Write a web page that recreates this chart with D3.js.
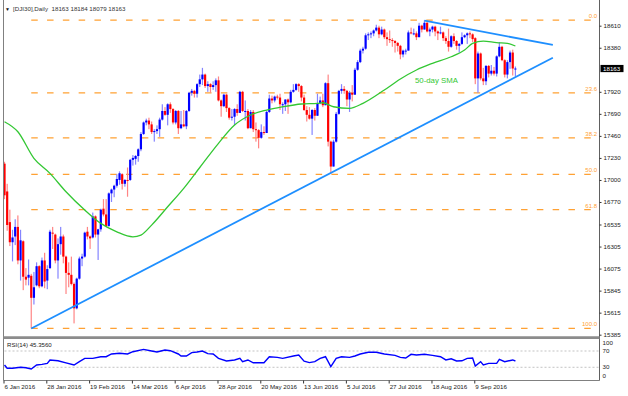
<!DOCTYPE html>
<html>
<head>
<meta charset="utf-8">
<script src="https://cdnjs.cloudflare.com/ajax/libs/d3/7.8.5/d3.min.js"></script>
<style>
	body { margin: 0; background: #fff; }
	svg { display: block; font-family: "Liberation Sans", Arial, sans-serif; }
</style>
</head>
<body>
<svg id="chart" width="628" height="396"></svg>
<script>
var titleText = '[DJI30],Daily  18163 18184 18079 18163';
var lastPrice = 18163;
var rsiText = 'RSI(14) 45.3560';
var smaText = '50-day SMA';

// date labels every 16 bars
var dateIdx = [0, 16, 32, 48, 64, 80, 96, 112, 128, 144, 160, 176];
var dateLabels = ['6 Jan 2016', '28 Jan 2016', '19 Feb 2016', '14 Mar 2016', '6 Apr 2016', '28 Apr 2016',
	'20 May 2016', '13 Jun 2016', '5 Jul 2016', '27 Jul 2016', '18 Aug 2016', '9 Sep 2016'];

var priceTicks = [18610, 18380, 17920, 17690, 17460, 17230, 17000, 16770, 16535, 16305, 16075, 15845, 15615, 15385];

// daily bars [open, high, low, close], 6 Jan .. 30 Sep 2016
var ohlc = [
	[17170,17190,16800,16840],[16880,16960,16470,16530],[16560,16690,16310,16350],[16350,16480,16150,16400],
	[16410,16590,16320,16510],[16510,16630,16120,16160],[16160,16480,15950,16370],[16360,16370,15850,15990],
	[15990,16080,15900,15960],[15980,16170,15900,16010],[16000,16020,15450,15770],[15770,16040,15700,15880],
	[15900,16140,15890,16100],[16100,16110,15870,15890],[15890,16190,15880,16160],[16160,16240,15870,15940],
	[15950,16110,15860,16070],[16080,16480,16070,16460],[16450,16510,16280,16440],[16430,16440,16130,16160],
	[16160,16390,15970,16330],[16330,16510,16220,16410],[16410,16430,16130,16200],[16200,16210,15810,16030],
	[16030,16140,15880,16010],[16010,16200,15900,15915],[15915,15930,15503,15660],[15660,15980,15650,15970],
	[15970,16200,15960,16180],[16180,16230,16100,16200],[16200,16460,16190,16450],[16460,16510,16380,16410],
	[16410,16420,16280,16390],[16400,16660,16390,16620],[16620,16630,16400,16430],[16430,16490,16165,16485],
	[16485,16700,16460,16690],[16700,16800,16620,16640],[16640,16800,16510,16520],[16520,16870,16510,16860],
	[16860,16910,16770,16900],[16900,16950,16820,16940],[16940,17060,16920,17010],[17000,17090,16950,17070],
	[17060,17070,16900,16960],[16960,17010,16930,17000],[17000,17130,16825,16990],[17000,17220,16990,17210],
	[17210,17260,17150,17230],[17220,17260,17160,17250],[17250,17330,17190,17320],[17320,17500,17300,17480],
	[17480,17610,17470,17600],[17600,17640,17570,17620],[17620,17650,17530,17580],[17580,17610,17480,17500],
	[17500,17530,17400,17510],[17510,17570,17480,17530],[17530,17650,17450,17630],[17630,17790,17620,17720],
	[17720,17760,17670,17680],[17680,17800,17570,17790],[17790,17810,17700,17740],[17740,17750,17580,17600],
	[17600,17730,17580,17720],[17720,17730,17480,17540],[17540,17720,17530,17580],[17580,17730,17550,17560],
	[17560,17730,17530,17720],[17720,17920,17710,17910],[17910,17950,17880,17930],[17930,17940,17860,17900],
	[17900,18010,17860,18000],[18000,18100,17970,18050],[18050,18170,17990,18100],[18100,18110,17960,17980],
	[17980,18030,17920,18000],[18000,18010,17910,17970],[17970,18030,17940,17990],[17990,18060,17920,18040],
	[18040,18080,17820,17830],[17830,17840,17660,17770],[17770,17900,17760,17890],[17890,17900,17710,17750],
	[17750,17760,17630,17650],[17650,17740,17620,17660],[17660,17750,17570,17740],[17740,17790,17670,17700],
	[17700,17930,17700,17920],[17920,17930,17710,17720],[17720,17830,17620,17720],[17720,17740,17530,17540],
	[17540,17730,17540,17710],[17710,17730,17500,17530],[17530,17600,17400,17520],[17520,17530,17330,17440],
	[17440,17580,17430,17500],[17500,17560,17470,17490],[17490,17720,17490,17710],[17710,17890,17700,17850],
	[17850,17880,17800,17830],[17830,17880,17810,17870],[17870,17890,17840,17860],[17860,17900,17730,17790],
	[17790,17810,17690,17790],[17790,17840,17720,17840],[17840,17850,17690,17810],[17810,17940,17800,17920],
	[17920,18000,17910,17940],[17940,18010,17930,18000],[18000,18010,17920,17980],[17980,17990,17820,17860],
	[17860,17890,17720,17730],[17730,17770,17610,17680],[17680,17760,17630,17640],[17640,17740,17470,17730],
	[17730,17750,17620,17670],[17670,17900,17670,17800],[17800,17870,17790,17830],[17830,17900,17760,17780],
	[17780,18020,17780,18010],[18010,18100,17350,17400],[17400,17410,17063,17140],[17140,17420,17140,17400],
	[17400,17710,17390,17690],[17690,17940,17680,17930],[17930,18000,17900,17950],[17950,17980,17900,17930],
	[17930,17940,17770,17840],[17840,17930,17710,17910],[17910,17990,17820,17890],[17890,18170,17890,18150],
	[18150,18250,18140,18230],[18230,18370,18220,18350],[18350,18390,18320,18370],[18370,18530,18360,18510],
	[18510,18540,18460,18520],[18520,18550,18480,18530],[18530,18570,18500,18560],[18560,18620,18550,18590],
	[18590,18610,18480,18520],[18520,18600,18510,18570],[18570,18580,18470,18490],[18490,18540,18400,18470],
	[18470,18560,18430,18460],[18460,18480,18390,18450],[18450,18460,18330,18430],[18430,18440,18340,18400],
	[18400,18410,18260,18310],[18310,18360,18280,18350],[18350,18370,18310,18350],[18350,18560,18350,18540],
	[18540,18590,18520,18530],[18530,18580,18510,18530],[18530,18550,18460,18490],[18490,18640,18490,18610],
	[18610,18620,18540,18570],[18570,18668,18570,18640],[18640,18650,18540,18550],[18550,18590,18500,18570],
	[18570,18610,18540,18600],[18600,18610,18500,18550],[18550,18560,18460,18530],[18530,18600,18520,18540],
	[18540,18550,18450,18480],[18480,18500,18420,18450],[18450,18580,18340,18390],[18390,18510,18380,18500],
	[18500,18530,18420,18450],[18450,18460,18360,18400],[18400,18430,18330,18420],[18420,18540,18410,18490],
	[18490,18520,18480,18510],[18510,18540,18420,18530],[18530,18550,18480,18520],[18520,18530,18440,18470],
	[18480,18490,18000,18060],[18060,18340,17910,18320],[18320,18330,18040,18060],[18060,18170,17990,18030],
	[18030,18200,17990,18190],[18190,18200,18070,18110],[18110,18200,18090,18140],[18140,18180,18090,18110],
	[18110,18300,18080,18290],[18290,18440,18280,18390],[18390,18400,18240,18250],[18250,18260,18070,18100],
	[18100,18250,18060,18230],[18230,18350,18160,18330],[18330,18360,18090,18163],[18163,18184,18079,18163]
];

// 50-day SMA, read at bar positions
var smaIdx = [0, 5, 11, 17, 23, 30, 36, 42, 48, 51, 55, 61, 67, 73, 80, 86, 92, 98, 104, 111, 117, 119, 123, 129, 134, 142, 148, 154, 160, 167, 172, 175, 179, 184, 188, 191];
var smaVal = [17608, 17503, 17226, 17069, 16877, 16686, 16547, 16459, 16407, 16425, 16529, 16720, 16913, 17130, 17382, 17573, 17678, 17730, 17764, 17793, 17800, 17806, 17764, 17748, 17800, 17939, 18054, 18148, 18217, 18286, 18356, 18426, 18450, 18433, 18426, 18398];

// RSI(14)
var rsiIdx = [0, 1, 3, 6, 8, 10, 12, 14, 16, 17, 20, 23, 26, 28, 30, 33, 36, 38, 40, 43, 46, 48, 52, 55, 57, 60, 62, 65, 66, 68, 70, 72, 74, 76, 78, 80, 83, 86, 88, 89, 91, 93, 97, 99, 102, 104, 108, 110, 112, 114, 116, 118, 120, 122, 124, 126, 129, 131, 133, 136, 139, 142, 146, 148, 150, 152, 154, 157, 160, 163, 165, 167, 169, 171, 173, 175, 176, 178, 179, 181, 184, 185, 187, 190, 191];
var rsiVal = [35.6, 27.5, 27.5, 30, 29, 25.8, 35.6, 37.2, 39.7, 48, 46, 41, 35.6, 43.8, 52, 52, 56, 56, 62.7, 64.4, 62.7, 68.3, 74, 70, 67.6, 72.4, 70.8, 62.7, 57.8, 57.8, 66, 67.6, 70, 63.5, 62.7, 52, 45.5, 48, 52, 43.8, 48, 41, 41, 56, 54.4, 52, 57.8, 60, 45, 41.5, 44, 52, 56, 31.5, 52, 56, 54.4, 57.8, 62.7, 66.8, 66.8, 62.7, 59.4, 54.4, 52.8, 61.9, 60.2, 61.9, 59.4, 56, 48, 51, 45.5, 46, 52, 52.8, 33, 43.8, 35.6, 39.7, 39.7, 49.5, 43.8, 48, 45.4];
var rsiTicks = [100, 70, 30, 0];
var rsiLevels = [70, 30];

// fibonacci retracement of the Jan low / Aug high
var fibNames = ['0.0', '23.6', '38.2', '50.0', '61.8', '100.0'];
var fibPrices = [18668, 17909, 17439, 17059, 16690, 15450];
var fibStartIdx = 10;

// trend lines [barIndex, price]
var lowerTrend = [[10, 15450], [205, 18276]];
var upperTrend = [[157, 18662], [205, 18409]];

function drawChart() {
	var blue = '#0000ff';
	var red = '#ff0000';
	var orange = '#ffa133';
	var green = '#33c733';
	var trendBlue = '#1e8fff';
	var axisX = 599.5;
	var left = 3.5;
	var mainBottom = 336;
	var rsiBottom = 380.5;

	var svg = d3.select('#chart');
	svg.selectAll('*').remove();

	var x = d3.scaleLinear().domain([0, 191]).range([4.5, 515.4]);
	var y = d3.scaleLinear().domain([15385, 18610]).range([334.7, 25.7]);
	var rsiY = d3.scaleLinear().domain([0, 100]).range([379.5, 338.8]);

	svg.append('defs').append('clipPath').attr('id', 'mainClip')
		.append('rect').attr('x', left + 0.5).attr('y', 0).attr('width', axisX - left - 1).attr('height', mainBottom);

	// frame
	svg.append('line').attr('x1', left).attr('x2', left).attr('y1', 0).attr('y2', rsiBottom)
		.attr('stroke', '#808080').attr('stroke-width', 1);
	svg.append('line').attr('x1', left).attr('x2', axisX).attr('y1', rsiBottom).attr('y2', rsiBottom)
		.attr('stroke', '#808080').attr('stroke-width', 1);
	svg.append('line').attr('x1', axisX).attr('x2', axisX).attr('y1', 0).attr('y2', rsiBottom)
		.attr('stroke', '#606060').attr('stroke-width', 1);
	svg.append('line').attr('x1', left).attr('x2', axisX).attr('y1', 337.6).attr('y2', 337.6)
		.attr('stroke', '#8c8c8c').attr('stroke-width', 2.6);

	var main = svg.append('g').attr('clip-path', 'url(#mainClip)');

	// fib levels
	main.selectAll('line.fib').data(fibPrices).enter().append('line')
		.attr('class', 'fib')
		.attr('x1', x(fibStartIdx)).attr('x2', axisX - 1)
		.attr('y1', function (d) { return y(d); })
		.attr('y2', function (d) { return y(d); })
		.attr('stroke', orange).attr('stroke-width', 1.2)
		.attr('stroke-dasharray', '6.5,9.3');
	main.selectAll('text.fib').data(fibPrices).enter().append('text')
		.attr('class', 'fib')
		.attr('x', axisX - 2.5)
		.attr('y', function (d) { return y(d) - 2; })
		.attr('text-anchor', 'end')
		.attr('font-size', 6)
		.attr('fill', orange)
		.text(function (d, i) { return fibNames[i]; });

	// candles
	var bodyW = 2.2;
	var bars = main.append('g').selectAll('g').data(ohlc).enter().append('g');
	bars.append('rect')
		.attr('x', function (d, i) { return x(i) - 0.6; })
		.attr('width', 1.2)
		.attr('y', function (d) { return y(d[1]); })
		.attr('height', function (d) { return Math.max(1, y(d[2]) - y(d[1])); })
		.attr('fill', function (d) { return d[3] >= d[0] ? '#8585ff' : '#ff8585'; });
	bars.append('rect')
		.attr('x', function (d, i) { return x(i) - bodyW / 2; })
		.attr('width', bodyW)
		.attr('y', function (d) { return y(Math.max(d[0], d[3])); })
		.attr('height', function (d) { return Math.max(1, Math.abs(y(d[0]) - y(d[3]))); })
		.attr('fill', function (d) { return d[3] >= d[0] ? blue : red; });

	// 50-day SMA
	var smaPts = smaIdx.map(function (d, i) { return [d, smaVal[i]]; });
	main.append('path').datum(smaPts)
		.attr('d', d3.line().x(function (d) { return x(d[0]); }).y(function (d) { return y(d[1]); }).curve(d3.curveMonotoneX))
		.attr('fill', 'none').attr('stroke', green).attr('stroke-width', 1.3);
	main.append('text').attr('x', 415).attr('y', 82.5)
		.attr('font-size', 7.8).attr('fill', green).text(smaText);

	// trend lines
	var trendLine = d3.line().x(function (d) { return x(d[0]); }).y(function (d) { return y(d[1]); });
	[lowerTrend, upperTrend].forEach(function (t) {
		main.append('path').datum(t).attr('d', trendLine)
			.attr('fill', 'none').attr('stroke', trendBlue).attr('stroke-width', 1.8);
	});

	// price axis
	var yAxis = d3.axisRight(y).tickValues(priceTicks).tickSize(2).tickPadding(2).tickFormat(d3.format('d'));
	var yG = svg.append('g').attr('transform', 'translate(' + axisX + ',0)').call(yAxis);
	yG.select('.domain').remove();
	yG.attr('font-size', 6.2).attr('font-family', null);
	yG.selectAll('line').attr('stroke', '#333');
	yG.selectAll('text').attr('fill', '#222');

	// last price box
	svg.append('rect').attr('x', axisX + 1).attr('y', y(lastPrice) - 3.6).attr('width', 23).attr('height', 7.2).attr('fill', '#000');
	svg.append('text').attr('x', axisX + 3.5).attr('y', y(lastPrice)).attr('dy', '0.34em')
		.attr('font-size', 6.2).attr('fill', '#fff').text(lastPrice);

	// rsi panel
	svg.selectAll('line.rsilvl').data(rsiLevels).enter().append('line')
		.attr('class', 'rsilvl')
		.attr('x1', left + 1).attr('x2', axisX - 1)
		.attr('y1', function (d) { return rsiY(d); })
		.attr('y2', function (d) { return rsiY(d); })
		.attr('stroke', '#b4b4b4').attr('stroke-width', 0.8).attr('stroke-dasharray', '2,2');
	var rsiPts = rsiIdx.map(function (d, i) { return [d, rsiVal[i]]; });
	svg.append('path').datum(rsiPts)
		.attr('d', d3.line().x(function (d) { return x(d[0]); }).y(function (d) { return rsiY(d[1]); }))
		.attr('fill', 'none').attr('stroke', blue).attr('stroke-width', 1.4);
	svg.append('text').attr('x', 7).attr('y', 346.5).attr('font-size', 6.1).attr('fill', '#222').text(rsiText);
	svg.selectAll('text.rsitick').data(rsiTicks).enter().append('text')
		.attr('class', 'rsitick')
		.attr('x', axisX + 3)
		.attr('y', function (d) { return Math.min(376, Math.max(343.3, rsiY(d))); })
		.attr('dy', '0.34em')
		.attr('font-size', 6.2).attr('fill', '#222')
		.text(function (d) { return d; });

	// date axis
	var xAxis = d3.axisBottom(x).tickValues(dateIdx).tickSize(3).tickPadding(1)
		.tickFormat(function (d, i) { return dateLabels[i]; });
	var xG = svg.append('g').attr('transform', 'translate(-1,' + rsiBottom + ')').call(xAxis);
	xG.select('.domain').remove();
	xG.attr('font-size', 6.2).attr('font-family', null);
	xG.selectAll('line').attr('stroke', '#333');
	xG.selectAll('text').attr('text-anchor', 'start').attr('fill', '#222').attr('x', 0.5);

	// title
	svg.append('text').attr('x', 5).attr('y', 11).attr('font-size', 5).attr('fill', '#111').text('\u25BC');
	svg.append('text').attr('x', 13).attr('y', 11).attr('font-size', 6.2).attr('fill', '#333')
		.style('white-space', 'pre').text(titleText);
}

drawChart();
</script>
</body>
</html>
